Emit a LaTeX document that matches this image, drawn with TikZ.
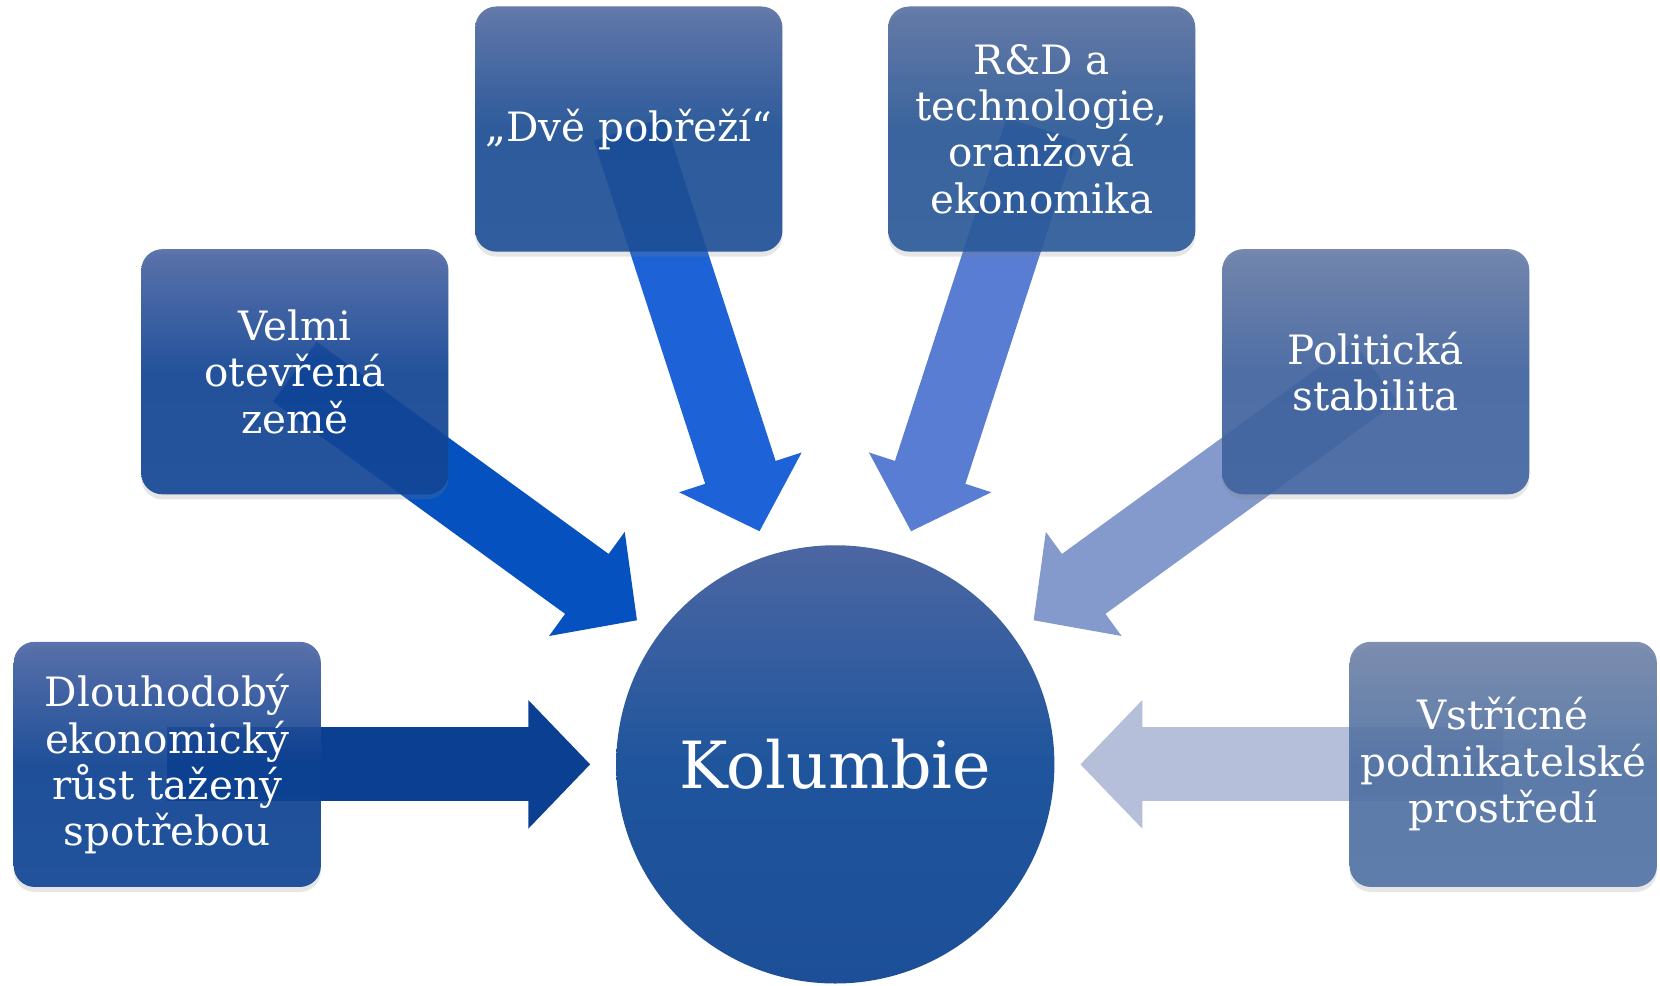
\documentclass[tikz,border=0pt]{standalone}
\usepackage{fontspec}
\setmainfont{DejaVu Serif}
\usetikzlibrary{arrows.meta,shadows,backgrounds}

\definecolor{arrA}{HTML}{0B3F92}
\definecolor{arrB}{HTML}{0551BF}
\definecolor{arrC}{HTML}{1D62D6}
\definecolor{arrD}{HTML}{587DD2}
\definecolor{arrE}{HTML}{8499CC}
\definecolor{arrF}{HTML}{B6BFDA}

\begin{document}
\begin{tikzpicture}[x=0.01cm, y=0.01cm,
                    every node/.style={text=white, align=center},
                    box/.style={rounded corners=0.21cm,
                                minimum width=3.07cm,
                                minimum height=2.45cm,
                                inner sep=0pt,
                                fill opacity=0.9, text opacity=1,
                                font=\fontsize{11.5}{13.2}\selectfont,
                                drop shadow={shadow xshift=0pt,
                                             shadow yshift=-0.05cm,
                                             opacity=0.2}},
                    fat/.style={line width=0.74cm,
                                -{Triangle[width=1.25cm, length=0.62cm]}}]
                      \useasboundingbox (-835.3,-221.6) rectangle (824.7,764.4);

                      \node[box, top color={rgb,255:red,74;green,100;blue,163}, bottom color={rgb,255:red,12;green,66;blue,148}, middle color={rgb,255:red,10;green,63;blue,145}] (dlouh) at (180:668) {Dlouhodobý\\ekonomický\\růst tažený\\spotřebou};
                      \node[box, top color={rgb,255:red,76;green,102;blue,164}, bottom color={rgb,255:red,16;green,68;blue,150}, middle color={rgb,255:red,14;green,66;blue,148}] (velmi) at (144:668) {Velmi\\otevřená\\země};
                      \node[box, top color={rgb,255:red,84;green,108;blue,162}, bottom color={rgb,255:red,28;green,78;blue,150}, middle color={rgb,255:red,26;green,76;blue,148}] (pobr) at (108:668) {„Dvě pobřeží“};
                      \node[box, top color={rgb,255:red,88;green,111;blue,160}, bottom color={rgb,255:red,42;green,89;blue,152}, middle color={rgb,255:red,40;green,87;blue,150}] (rad) at (72:668) {R\&D a\\technologie,\\oranžová\\ekonomika};
                      \node[box, top color={rgb,255:red,103;green,123;blue,166}, bottom color={rgb,255:red,64;green,100;blue,160}, middle color={rgb,255:red,62;green,98;blue,158}] (polit) at (36:668) {Politická\\stabilita};
                      \node[box, top color={rgb,255:red,113;green,132;blue,168}, bottom color={rgb,255:red,80;green,114;blue,165}, middle color={rgb,255:red,78;green,112;blue,163}] (vstr) at (0:668) {Vstřícné\\podnikatelské\\prostředí};

                      \node[circle, minimum size=4.38cm, inner sep=0pt,
                            top color={rgb,255:red,76;green,102;blue,162},
                            bottom color={rgb,255:red,28;green,79;blue,151},
                            middle color={rgb,255:red,31;green,85;blue,157},
                            font=\fontsize{18.5}{22}\selectfont] (kol) at (0,0) {Kolumbie};

                      \coordinate (tdlouh) at (180:245);
                      \coordinate (tvelmi) at (144:245);
                      \coordinate (tpobr) at (108:245);
                      \coordinate (trad) at (72:245);
                      \coordinate (tpolit) at (36:245);
                      \coordinate (tvstr) at (0:245);

                      \begin{pgfonlayer}{background}
                      \foreach \i/\c in {dlouh/arrA, velmi/arrB, pobr/arrC, rad/arrD, polit/arrE, vstr/arrF} {
                              \draw[fat, \c] (\i.center) -- (t\i);
                          }
                      \end{pgfonlayer}
                  \end{tikzpicture}
\end{document}
